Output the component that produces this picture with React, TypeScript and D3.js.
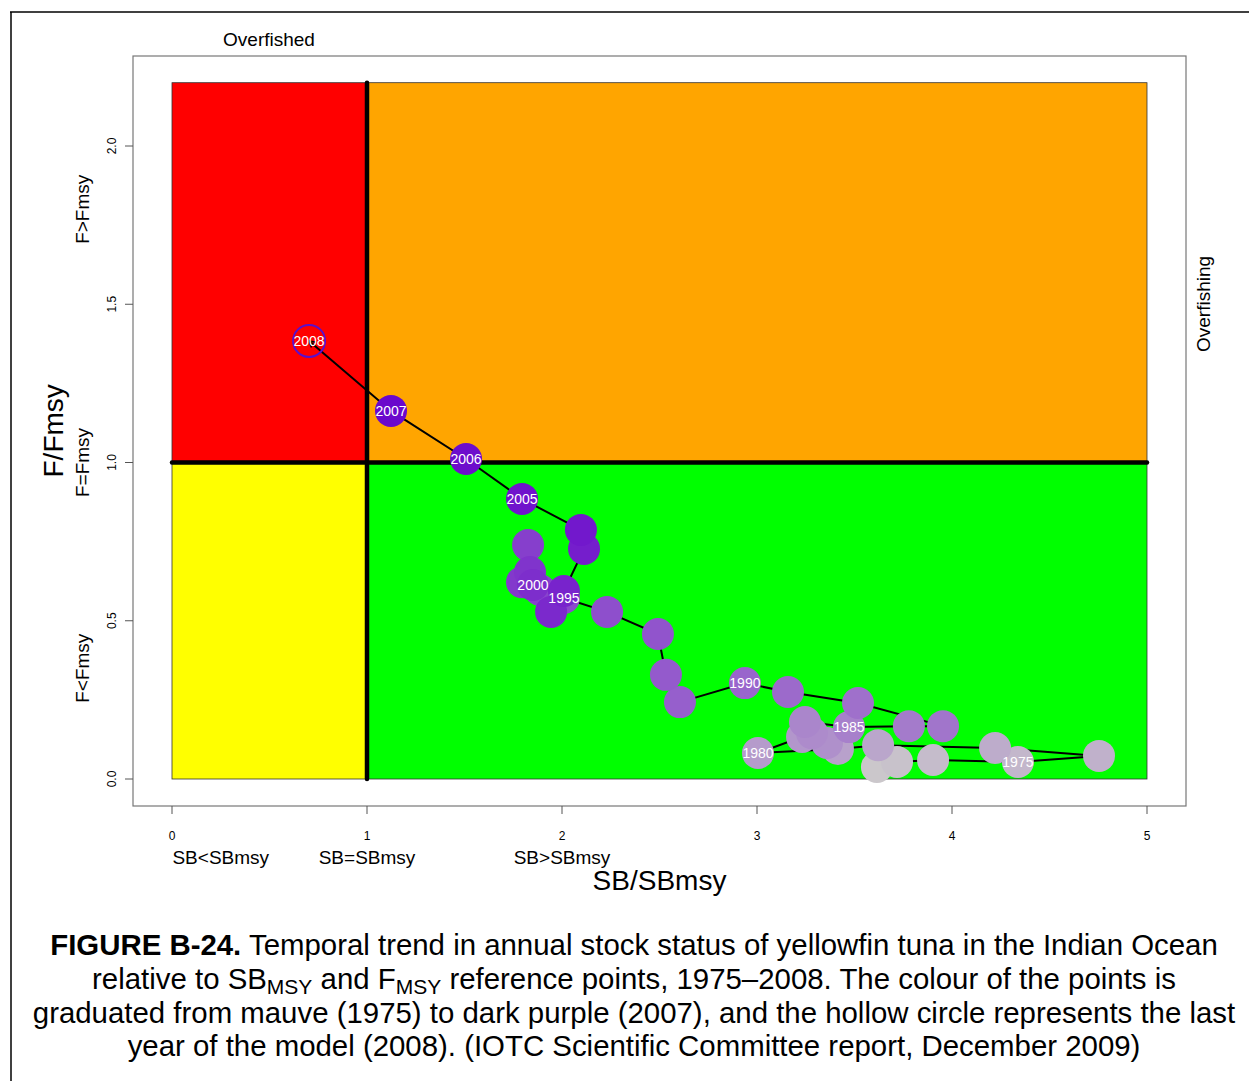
import React from "react";
import * as d3 from "d3";

// ---- data ----
const years = [1972, 1973, 1974, 1975, 1976, 1977, 1978, 1979, 1980, 1981, 1982, 1983, 1984, 1985, 1986, 1987, 1988, 1989, 1990, 1991, 1992, 1993, 1994, 1995, 1996, 1997, 1998, 1999, 2000, 2001, 2002, 2003, 2004, 2005, 2006, 2007, 2008];
const sbRatio = [3.615, 3.718, 3.903, 4.338, 4.754, 4.221, 3.621, 3.415, 3.005, 3.231, 3.359, 3.282, 3.246, 3.472, 3.779, 3.954, 3.518, 3.159, 2.938, 2.605, 2.533, 2.492, 2.231, 2.01, 1.887, 1.826, 1.795, 1.836, 1.851, 1.944, 2.01, 2.113, 2.097, 1.795, 1.508, 1.123, 0.703];
const fRatio = [0.038, 0.054, 0.06, 0.054, 0.073, 0.098, 0.107, 0.095, 0.082, 0.133, 0.114, 0.145, 0.18, 0.164, 0.167, 0.167, 0.24, 0.275, 0.303, 0.243, 0.329, 0.458, 0.528, 0.572, 0.597, 0.739, 0.622, 0.654, 0.613, 0.528, 0.594, 0.727, 0.787, 0.885, 1.011, 1.163, 1.384];
const labeledYears = [1975, 1980, 1985, 1990, 1995, 2000, 2005, 2006, 2007, 2008];
const xTicks = [0, 1, 2, 3, 4, 5];
const yTicks = [0, 0.5, 1, 1.5, 2];
const xZoneLabels = ["SB<SBmsy", "SB=SBmsy", "SB>SBmsy"];
const xZonePos = [0.25, 1, 2];
const yZoneLabels = ["F<Fmsy", "F=Fmsy", "F>Fmsy"];
const yZonePos = [0.35, 1, 1.8];
const zones = [
  { x0: 0, x1: 1, y0: 1, y1: 2.2, fill: "#ff0000" },
  { x0: 1, x1: 5, y0: 1, y1: 2.2, fill: "#ffa500" },
  { x0: 0, x1: 1, y0: 0, y1: 1, fill: "#ffff00" },
  { x0: 1, x1: 5, y0: 0, y1: 1, fill: "#00ff00" },
];

const FONT = "'Liberation Sans', Arial, Helvetica, sans-serif";

export default function App() {
  const x = d3.scaleLinear().domain([0, 5]).range([172, 1147]);
  const y = d3.scaleLinear().domain([0, 2]).range([779, 146]);
  const n = years.length;
  const ramp = d3.interpolateRgb("#cbc7cb", "#6a08cc");
  const colorOf = (i: number) => ramp(i / (n - 2));
  const pts = years.map((yr, i) => ({ yr, sx: x(sbRatio[i]), sy: y(fRatio[i]), i }));
  const line = d3.line<{ sx: number; sy: number }>().x((d) => d.sx).y((d) => d.sy);
  const last = pts[n - 1];
  const prev = pts[n - 2];
  const ang = Math.atan2(last.sy - prev.sy, last.sx - prev.sx);
  const al = 7;
  const arrowPath = `M${last.sx - al * Math.cos(ang - Math.PI / 6)},${last.sy - al * Math.sin(ang - Math.PI / 6)}L${last.sx},${last.sy}L${last.sx - al * Math.cos(ang + Math.PI / 6)},${last.sy - al * Math.sin(ang + Math.PI / 6)}`;
  const r = 16;

  return (
    <div style={{ position: "absolute", left: 0, top: 0 }}>
      <svg width={1249} height={1081} style={{ display: "block", background: "#fff" }} fontFamily={FONT}>
        {/* outer frame */}
        <line x1={10} y1={12} x2={1249} y2={12} stroke="#000" strokeWidth={1.5} />
        <line x1={11} y1={12} x2={11} y2={1081} stroke="#000" strokeWidth={1.5} />

        {/* plot box */}
        <rect x={133} y={56} width={1186 - 133} height={806 - 56} fill="none" stroke="#777" strokeWidth={1.2} />

        {/* zones */}
        {zones.map((z, k) => (
          <rect key={k} x={x(z.x0)} y={y(z.y1)} width={x(z.x1) - x(z.x0)} height={y(z.y0) - y(z.y1)} fill={z.fill} stroke="#333" strokeWidth={0.8} />
        ))}
        <line x1={x(1)} y1={y(0)} x2={x(1)} y2={y(2.2)} stroke="#000" strokeWidth={4.5} strokeLinecap="round" />
        <line x1={x(0)} y1={y(1)} x2={x(5)} y2={y(1)} stroke="#000" strokeWidth={4.5} strokeLinecap="round" />

        {/* trajectory */}
        <path d={line(pts) || ""} fill="none" stroke="#000" strokeWidth={2} />
        <path d={arrowPath} fill="none" stroke="#000" strokeWidth={1.5} />
        {pts.slice(0, n - 1).map((p) => (
          <circle key={p.yr} cx={p.sx} cy={p.sy} r={r} fill={colorOf(p.i)} />
        ))}
        <circle cx={last.sx} cy={last.sy} r={r} fill="none" stroke="#5a10cc" strokeWidth={2} />
        {pts.filter((p) => labeledYears.includes(p.yr)).map((p) => (
          <text key={"l" + p.yr} x={p.sx} y={p.sy + 5} textAnchor="middle" fontSize={14} fill="#fff">{p.yr}</text>
        ))}

        {/* x axis */}
        {xTicks.map((t) => (
          <g key={"xt" + t}>
            <line x1={x(t)} y1={806} x2={x(t)} y2={814} stroke="#555" strokeWidth={1} />
            <text x={x(t)} y={840} textAnchor="middle" fontSize={12} fill="#000">{t}</text>
          </g>
        ))}
        {xZoneLabels.map((s, k) => (
          <text key={s} x={x(xZonePos[k])} y={864} textAnchor="middle" fontSize={19} fill="#000">{s}</text>
        ))}
        <text x={x(2.5)} y={890} textAnchor="middle" fontSize={28} fill="#000">SB/SBmsy</text>

        {/* y axis */}
        {yTicks.map((t) => (
          <g key={"yt" + t}>
            <line x1={125} y1={y(t)} x2={133} y2={y(t)} stroke="#555" strokeWidth={1} />
            <text transform={`translate(116,${y(t)}) rotate(-90)`} textAnchor="middle" fontSize={12} fill="#000">{t.toFixed(1)}</text>
          </g>
        ))}
        {yZoneLabels.map((s, k) => (
          <text key={s} transform={`translate(89,${y(yZonePos[k])}) rotate(-90)`} textAnchor="middle" fontSize={19} fill="#000">{s}</text>
        ))}
        <text transform={`translate(63,${y(1.1)}) rotate(-90)`} textAnchor="middle" fontSize={28} fill="#000">F/Fmsy</text>

        {/* margin titles */}
        <text x={269} y={46} textAnchor="middle" fontSize={19} fill="#000">Overfished</text>
        <text transform={`translate(1210,304) rotate(-90)`} textAnchor="middle" fontSize={19} fill="#000">Overfishing</text>

        {/* caption */}
        <g fontSize={29.4} fill="#000" textAnchor="middle">
          <text x={634} y={955}>
            <tspan fontWeight="bold">FIGURE B-24.</tspan> Temporal trend in annual stock status of yellowfin tuna in the Indian Ocean
          </text>
          <text x={634} y={989}>
            relative to SB<tspan fontSize={21} dy={5}>MSY</tspan><tspan dy={-5}> and F</tspan><tspan fontSize={21} dy={5}>MSY</tspan><tspan dy={-5}> reference points, 1975–2008. The colour of the points is</tspan>
          </text>
          <text x={634} y={1023}>
            graduated from mauve (1975) to dark purple (2007), and the hollow circle represents the last
          </text>
          <text x={634} y={1056}>
            year of the model (2008). (IOTC Scientific Committee report, December 2009)
          </text>
        </g>
      </svg>
    </div>
  );
}
